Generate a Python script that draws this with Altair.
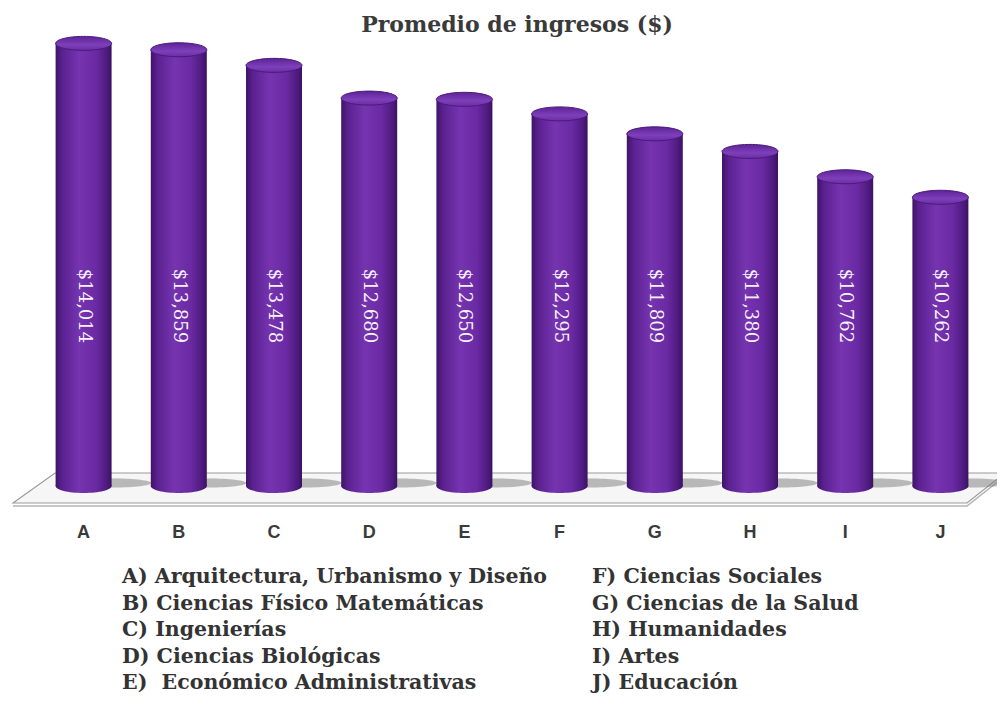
import altair as alt
import pandas as pd

# ---- data ----
categories = ["A", "B", "C", "D", "E", "F", "G", "H", "I", "J"]
income = [14014, 13859, 13478, 12680, 12650, 12295, 11809, 11380, 10762, 10262]
legend_left = [
    "A) Arquitectura, Urbanismo y Diseño",
    "B) Ciencias Físico Matemáticas",
    "C) Ingenierías",
    "D) Ciencias Biológicas",
    "E)\u00a0\u00a0Económico Administrativas",
]
legend_right = [
    "F) Ciencias Sociales",
    "G) Ciencias de la Salud",
    "H) Humanidades",
    "\u00a0I) Artes",
    "J) Educación",
]
title_text = "Promedio de ingresos ($)"

# ---- layout constants ----
PLOT_W, PLOT_H = 952, 466
Y_MIN, Y_MAX = 3223, 14584
BAR_W = 56
STEP = PLOT_W / len(categories)
P_IN = 1 - BAR_W / STEP

df = pd.DataFrame({"cat": categories, "v": income})

ELLIPSE = ("M-1,0 C-1,-0.138 -0.552,-0.25 0,-0.25 C0.552,-0.25 1,-0.138 1,0 "
           "C1,0.138 0.552,0.25 0,0.25 C-0.552,0.25 -1,0.138 -1,0 Z")
SHADOW = ("M-1,0 C-1,-0.066 -0.552,-0.12 0,-0.12 C0.552,-0.12 1,-0.066 1,0 "
          "C1,0.066 0.552,0.12 0,0.12 C-0.552,0.12 -1,0.066 -1,0 Z")
FLOOR = "M-23,483 L19,453 L969,453 L931,483 Z"
FLOOR_EDGE = "M-23,486 L931,486 L969,456"

cyl = alt.LinearGradient(
    gradient="linear", x1=0, x2=1, y1=0, y2=0,
    stops=[
        alt.GradientStop(color="#3f1466", offset=0),
        alt.GradientStop(color="#5a2190", offset=0.12),
        alt.GradientStop(color="#7634b0", offset=0.42),
        alt.GradientStop(color="#6a2aa3", offset=0.72),
        alt.GradientStop(color="#4d1a7e", offset=0.92),
        alt.GradientStop(color="#3a1260", offset=1),
    ],
)
topgrad = alt.LinearGradient(
    gradient="linear", x1=0, x2=0, y1=0, y2=1,
    stops=[
        alt.GradientStop(color="#5d2396", offset=0),
        alt.GradientStop(color="#7e3fba", offset=0.6),
        alt.GradientStop(color="#6c2ca6", offset=1),
    ],
)

xenc = alt.X("cat:N", sort=categories,
             scale=alt.Scale(paddingInner=P_IN, paddingOuter=P_IN / 2),
             axis=alt.Axis(title=None, domain=False, ticks=False, labelAngle=0,
                           labelPadding=37, labelFont="Liberation Sans",
                           labelFontSize=18, labelFontWeight="bold",
                           labelColor="#3a3a3a"))
yscale = alt.Scale(domain=[Y_MIN, Y_MAX], zero=False, nice=False)

base = alt.Chart(df)
one = alt.Chart(pd.DataFrame({"k": [0]}))

floor = one.mark_point(shape=FLOOR, size=4, filled=True, color="#f6f6f6",
                       stroke="#9a9a9a", strokeWidth=1.2, opacity=1).encode(
    x=alt.value(0), y=alt.value(0))
floor_edge = one.mark_point(shape=FLOOR_EDGE, size=4, filled=False,
                            color="#b5b5b5", strokeWidth=1.5, opacity=1).encode(
    x=alt.value(0), y=alt.value(0))

shadow = base.mark_point(shape=SHADOW, size=75 ** 2, filled=True, color="#7a7a7a",
                         opacity=0.5, xOffset=30).encode(
    x=xenc, y=alt.value(PLOT_H - 3))

bottom = base.mark_point(shape=ELLIPSE, size=BAR_W ** 2, filled=True, color=cyl,
                         opacity=1).encode(
    x=xenc, y=alt.value(PLOT_H))

bars = base.mark_bar(color=cyl, opacity=1).encode(
    x=xenc,
    y=alt.Y("v:Q", scale=yscale, axis=None),
    y2=alt.datum(Y_MIN),
)

top = base.mark_point(shape=ELLIPSE, size=BAR_W ** 2, filled=True, color=topgrad,
                      stroke="#4a1a78", strokeWidth=1, opacity=1).encode(
    x=xenc, y=alt.Y("v:Q", scale=yscale, axis=None))

labels = base.mark_text(angle=90, font="DejaVu Serif", fontSize=18,
                        color="#f7f2fb", baseline="middle", align="center").encode(
    x=xenc, y=alt.value(286), text=alt.Text("v:Q", format="$,"))

title = one.mark_text(text=title_text,
    font="DejaVu Serif", fontSize=22, fontWeight="bold", color="#3a3a3a",
    align="center", baseline="middle").encode(
    x=alt.value(481), y=alt.value(5))

leg_l = one.mark_text(text=legend_left, lineHeight=26.5,
    font="DejaVu Serif", fontSize=20.5, fontWeight="bold", color="#333333",
    align="left", baseline="top").encode(x=alt.value(86), y=alt.value(547))
leg_r = one.mark_text(text=legend_right, lineHeight=26.5,
    font="DejaVu Serif", fontSize=20.5, fontWeight="bold", color="#333333",
    align="left", baseline="top").encode(x=alt.value(556), y=alt.value(547))

chart = alt.layer(floor, floor_edge, shadow, bottom, bars, top, labels, title,
                  leg_l, leg_r).properties(
    width=PLOT_W, height=PLOT_H,
    autosize=alt.AutoSizeParams(type="none"),
    padding={"left": 28, "top": 12, "right": 9, "bottom": 209},
    background="white",
).configure_view(stroke=None)

chart.save("out.html", embed_options={"renderer": "svg", "actions": False})
